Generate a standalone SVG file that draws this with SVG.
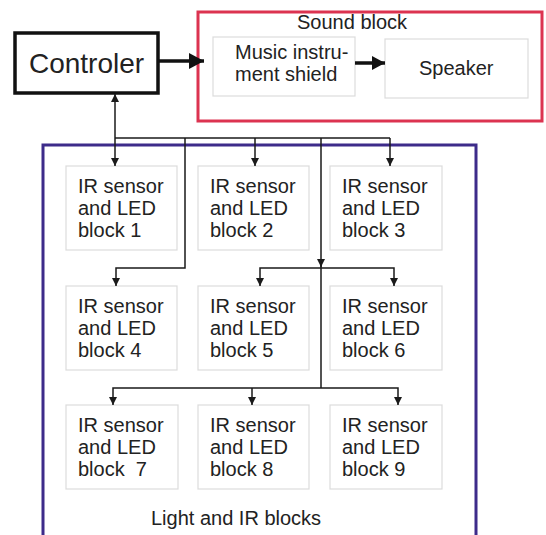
<svg xmlns="http://www.w3.org/2000/svg" width="546" height="535" viewBox="0 0 546 535">
<style>
text{font-family:"Liberation Sans",Arial,sans-serif;fill:#222;}
.t{font-size:20px;}
.box{fill:#fff;stroke:#dcdcdc;stroke-width:1.2;}
.con{fill:none;stroke:#1a1a1a;stroke-width:1.5;}
.thick{fill:none;stroke:#111;stroke-width:3.5;}
</style>
<defs>
<marker id="ah" markerUnits="userSpaceOnUse" markerWidth="8" markerHeight="8" refX="8" refY="4" orient="auto-start-reverse"><path d="M0,0 L8,4 L0,8 z" fill="#1a1a1a"/></marker>
<marker id="big" markerUnits="userSpaceOnUse" markerWidth="15" markerHeight="16" refX="15" refY="8" orient="auto"><path d="M0,0 L15,8 L0,16 z" fill="#111"/></marker>
<marker id="mid" markerUnits="userSpaceOnUse" markerWidth="13" markerHeight="14" refX="13" refY="7" orient="auto"><path d="M0,0 L13,7 L0,14 z" fill="#111"/></marker>
</defs>
<rect width="546" height="535" fill="#fff"/>
<g id="sound-block">
<rect x="198" y="12" width="344" height="109" fill="none" stroke="#dc3350" stroke-width="3"/>
<text class="t" x="297" y="29">Sound block</text>
</g>
<g id="light-ir-blocks">
<rect x="43" y="145" width="433" height="400" fill="none" stroke="#3d2b8a" stroke-width="3"/>
<text class="t" x="151" y="525">Light and IR blocks</text>
</g>
<g id="controler">
<rect x="15" y="33" width="143" height="60" fill="#fff" stroke="#111" stroke-width="3.5"/>
<text x="86.5" y="73" font-size="28" text-anchor="middle">Controler</text>
</g>
<g id="music">
<rect class="box" x="213" y="37" width="142" height="59"/>
<text class="t" x="235" y="59">Music instru-</text>
<text class="t" x="235" y="81">ment shield</text>
</g>
<g id="speaker">
<rect class="box" x="385" y="39" width="143" height="59"/>
<text class="t" x="419" y="75">Speaker</text>
</g>
<g id="block1"><rect class="box" x="66" y="166" width="111" height="84"/><text class="t" x="78" y="193">IR sensor</text><text class="t" x="78" y="215">and LED</text><text class="t" x="78" y="237">block 1</text></g>
<g id="block2"><rect class="box" x="198" y="166" width="111" height="84"/><text class="t" x="210" y="193">IR sensor</text><text class="t" x="210" y="215">and LED</text><text class="t" x="210" y="237">block 2</text></g>
<g id="block3"><rect class="box" x="330" y="166" width="112" height="84"/><text class="t" x="342" y="193">IR sensor</text><text class="t" x="342" y="215">and LED</text><text class="t" x="342" y="237">block 3</text></g>
<g id="block4"><rect class="box" x="66" y="286" width="111" height="84"/><text class="t" x="78" y="313">IR sensor</text><text class="t" x="78" y="335">and LED</text><text class="t" x="78" y="357">block 4</text></g>
<g id="block5"><rect class="box" x="198" y="286" width="111" height="84"/><text class="t" x="210" y="313">IR sensor</text><text class="t" x="210" y="335">and LED</text><text class="t" x="210" y="357">block 5</text></g>
<g id="block6"><rect class="box" x="330" y="286" width="112" height="84"/><text class="t" x="342" y="313">IR sensor</text><text class="t" x="342" y="335">and LED</text><text class="t" x="342" y="357">block 6</text></g>
<g id="block7"><rect class="box" x="66" y="405" width="112" height="84"/><text class="t" x="78" y="432">IR sensor</text><text class="t" x="78" y="454">and LED</text><text class="t" x="78" y="476" xml:space="preserve" style="white-space:pre">block  7</text></g>
<g id="block8"><rect class="box" x="198" y="405" width="111" height="84"/><text class="t" x="210" y="432">IR sensor</text><text class="t" x="210" y="454">and LED</text><text class="t" x="210" y="476">block 8</text></g>
<g id="block9"><rect class="box" x="330" y="405" width="112" height="84"/><text class="t" x="342" y="432">IR sensor</text><text class="t" x="342" y="454">and LED</text><text class="t" x="342" y="476">block 9</text></g>
<g id="connectors">
<path class="thick" d="M158,61 L204,61" marker-end="url(#big)"/>
<path class="thick" d="M355,63 L385,63" marker-end="url(#mid)"/>
<path class="con" d="M115,94 L115,166" marker-start="url(#ah)" marker-end="url(#ah)"/>
<path class="con" d="M115,138 L390,138"/>
<path class="con" d="M255,138 L255,166" marker-end="url(#ah)"/>
<path class="con" d="M390,138 L390,166" marker-end="url(#ah)"/>
<path class="con" d="M185,138 L185,268 L116,268 L116,286" marker-end="url(#ah)"/>
<path class="con" d="M321,138 L321,267" marker-end="url(#ah)"/>
<path class="con" d="M321,262 L321,388"/>
<path class="con" d="M260,286 L260,268 L394,268 L394,286" marker-start="url(#ah)" marker-end="url(#ah)"/>
<path class="con" d="M113,405 L113,388 L398,388 L398,405" marker-start="url(#ah)" marker-end="url(#ah)"/>
<path class="con" d="M252,388 L252,405" marker-end="url(#ah)"/>
</g>
</svg>
